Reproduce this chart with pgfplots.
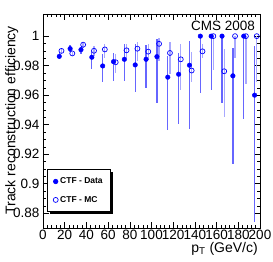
\documentclass[border=0pt]{standalone}
\usepackage{pgfplots}
\pgfplotsset{compat=1.18}
\usepackage{pgfplotstable}
\usepackage{fontspec}
\setmainfont{Liberation Sans}
\usetikzlibrary{shadows}
\definecolor{databar}{rgb}{0.40,0.40,1.00}
\definecolor{mcbar}{rgb}{0.66,0.66,1.00}

\pgfplotstableread{
x y ep em
15 0.9863 0.0020 0.0020
25 0.9915 0.0025 0.0025
35 0.9908 0.0020 0.0030
45 0.9857 0.0045 0.0077
55 0.9798 0.0079 0.0108
65 0.9827 0.0061 0.0130
75 0.9843 0.0101 0.0146
85 0.9805 0.0139 0.0185
95 0.9843 0.0097 0.0193
105 0.9861 0.0117 0.0311
115 0.9722 0.0143 0.0356
125 0.9742 0.0146 0.0336
135 0.9803 0.0167 0.0435
145 1.0000 0.0000 0.0386
155 1.0000 0.0000 0.0365
165 1.0000 0.0000 0.0453
175 0.9731 0.0191 0.0594
185 1.0000 0.0000 0.0560
195 0.9600 0.0333 0.0856
}\datatab

\pgfplotstableread{
x y ep em
17 0.9900 0.0012 0.0012
27 0.9883 0.0012 0.0012
37 0.9942 0.0012 0.0020
47 0.9901 0.0032 0.0036
57 0.9910 0.0034 0.0056
67 0.9823 0.0058 0.0076
77 0.9904 0.0045 0.0050
87 0.9915 0.0047 0.0083
97 0.9895 0.0050 0.0058
107 0.9948 0.0036 0.0116
117 0.9886 0.0076 0.0144
127 0.9843 0.0101 0.0206
137 0.9767 0.0128 0.0081
147 0.9897 0.0047 0.0045
157 1.0000 0.0000 0.0229
167 0.9762 0.0153 0.0307
177 1.0000 0.0000 0.0150
187 1.0000 0.0000 0.0325
197 1.0000 0.0000 0.0314
}\mctab

\begin{document}
\begin{tikzpicture}
\begin{axis}[
  scale only axis,
  width=217pt, height=214pt,
  xmin=0, xmax=200, ymin=0.87, ymax=1.015,
  xtick={0,20,...,200},
  ytick={0.88,0.9,0.92,0.94,0.96,0.98,1},
  yticklabels={0.88,0.9,0.92,0.94,0.96,0.98,1},
  minor x tick num=4,
  minor y tick num=3,
  tick align=inside,
  major tick length=6pt,
  minor tick length=3pt,
  tick style={black, line width=0.5pt},
  axis line style={line width=0.6pt},
  /pgf/number format/assume math mode=true,
  ticklabel style={font=\fontsize{13.5}{15}\selectfont},
  xticklabel style={yshift=1pt},
  legend style={at={(0.018,0.075)}, anchor=south west,
    draw=black, line width=0.6pt,
    font=\bfseries\fontsize{8.5}{10}\selectfont,
    row sep=7pt, inner xsep=6pt, inner ysep=6pt,
    drop shadow={shadow xshift=2.5pt, shadow yshift=-2.5pt, opacity=1, fill=black}},
  legend cell align=left,
  clip=false,
]
\addplot[only marks, mark=*, mark size=2.3pt, blue,
  mark options={fill=blue, draw=blue},
  error bars/.cd, y dir=both, y explicit, error mark=none,
  error bar style={databar, line width=1.3pt}]
  table[x=x, y=y, y error plus=ep, y error minus=em]{\datatab};
\addlegendentry{CTF - Data}
\addplot[only marks, mark=o, mark size=2.5pt, blue,
  mark options={fill=white, draw=blue, line width=0.7pt},
  error bars/.cd, y dir=both, y explicit, error mark=none,
  error bar style={mcbar, line width=1.3pt}]
  table[x=x, y=y, y error plus=ep, y error minus=em]{\mctab};
\addlegendentry{CTF - MC}
\coordinate (ll) at (rel axis cs:0,0);
\coordinate (lr) at (rel axis cs:1,0);
\coordinate (ul) at (rel axis cs:0,1);
\node[anchor=south east, font=\fontsize{13.5}{15}\selectfont, inner sep=0pt] at ([shift={(-5pt,-17pt)}]rel axis cs:1,1) {CMS 2008};
\end{axis}
\node[anchor=north east, rotate=90, inner sep=0pt, font=\fontsize{14}{15}\selectfont] at ([shift={(-38pt,-12pt)}]ul) {Track reconstruction efficiency};
\node[anchor=north east, inner sep=0pt, font=\fontsize{14}{15}\selectfont] at ([shift={(-2pt,-14pt)}]lr) {p$_{\mathrm{T}}$ (GeV/c)};
\pgfresetboundingbox
\path[use as bounding box] ([shift={(-43pt,-34pt)}]ll) rectangle ([shift={(230pt,228pt)}]ll);
\end{tikzpicture}
\end{document}
